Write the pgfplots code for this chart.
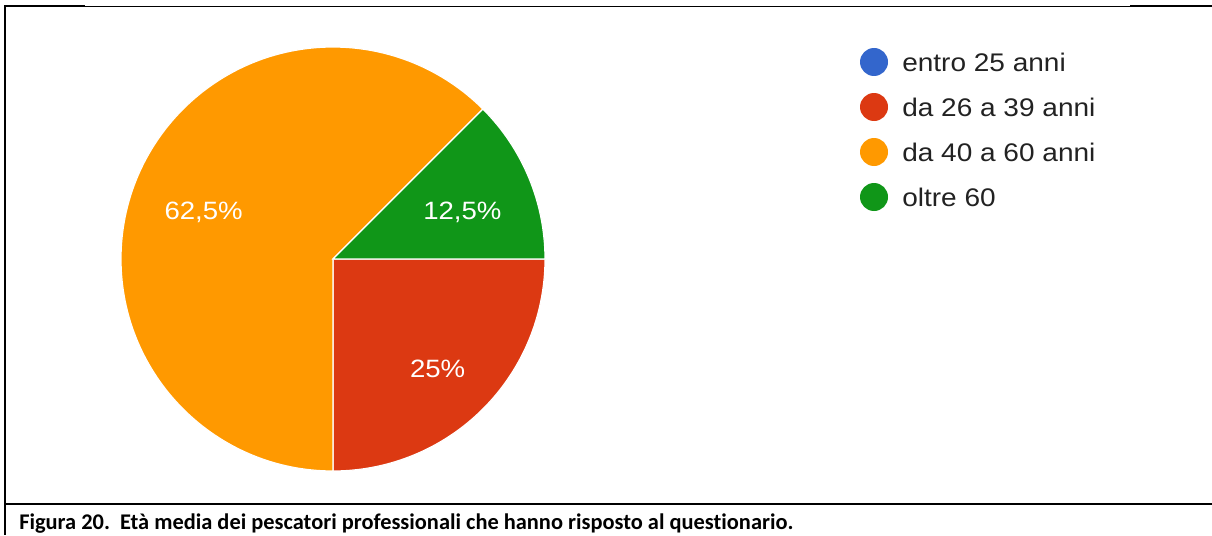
\documentclass[border=0pt]{standalone}
\usepackage{pgfplots}
\pgfplotsset{compat=1.18}
\usepackage{pgfplotstable}
\usepackage{fontspec}
\setmainfont{Liberation Sans}
\newfontfamily\gfont[FakeStretch=1.1]{Liberation Sans}
\newfontfamily\capfont[RawFeature=-liga]{Carlito}
\definecolor{cBlue}{HTML}{3366CC}
\definecolor{cRed}{HTML}{DC3912}
\definecolor{cOrange}{HTML}{FF9900}
\definecolor{cGreen}{HTML}{109618}
\definecolor{cText}{HTML}{222222}
\pgfkeys{/pgf/number format/assume math mode=true}

\pgfplotstableread[col sep=comma]{
group,value
entro 25 anni,0
da 26 a 39 anni,25
da 40 a 60 anni,62.5
oltre 60,12.5
}\agedata

\begin{document}
\begin{tikzpicture}
\pgfplotstablegetelem{0}{value}\of\agedata\edef\vA{\pgfplotsretval}
\pgfplotstablegetelem{1}{value}\of\agedata\edef\vB{\pgfplotsretval}
\pgfplotstablegetelem{2}{value}\of\agedata\edef\vC{\pgfplotsretval}
\pgfplotstablegetelem{3}{value}\of\agedata\edef\vD{\pgfplotsretval}
\pgfplotstablegetelem{0}{group}\of\agedata\edef\gA{\pgfplotsretval}
\pgfplotstablegetelem{1}{group}\of\agedata\edef\gB{\pgfplotsretval}
\pgfplotstablegetelem{2}{group}\of\agedata\edef\gC{\pgfplotsretval}
\pgfplotstablegetelem{3}{group}\of\agedata\edef\gD{\pgfplotsretval}
\pgfmathsetmacro\sA{0}
\pgfmathsetmacro\eA{\sA-3.6*\vA}
\pgfmathsetmacro\eB{\eA-3.6*\vB}
\pgfmathsetmacro\eC{\eB-3.6*\vC}
\pgfmathsetmacro\eD{\eC-3.6*\vD}
\pgfmathsetmacro\mB{(\eA+\eB)/2}
\pgfmathsetmacro\mC{(\eB+\eC)/2}
\pgfmathsetmacro\mD{(\eC+\eD)/2}
\pgfmathsetmacro\xB{333+148*cos(\mB)}\pgfmathsetmacro\yB{259-148*sin(\mB)+14}
\pgfmathsetmacro\xC{333+140*cos(\mC)}\pgfmathsetmacro\yC{259-140*sin(\mC)+14}
\pgfmathsetmacro\xD{333+140*cos(\mD)}\pgfmathsetmacro\yD{259-140*sin(\mD)+14}
\useasboundingbox (0,0) rectangle (909pt,401.25pt);
\begin{axis}[
  at={(0,0)}, anchor=south west,
  scale only axis, width=909pt, height=401.25pt,
  xmin=0, xmax=1212, ymin=0, ymax=535, y dir=reverse,
  hide axis, clip=false]
% frame
\draw[line width=0.75pt] (axis cs:4,6.5) -- (axis cs:1212,6.5);
\draw[line width=1.5pt] (axis cs:4,6.5) -- (axis cs:85,6.5);
\draw[line width=1.5pt] (axis cs:1130,6.5) -- (axis cs:1212,6.5);
\draw[line width=1.5pt] (axis cs:5,6) -- (axis cs:5,535);
\draw[line width=1.3pt] (axis cs:4,504) -- (axis cs:1212,504);
% pie slices
\filldraw[fill=cBlue, draw=white, line width=0.9pt] (axis cs:333,259) -- ++(\sA:159pt) arc[start angle=\sA, end angle=\eA, radius=159pt] -- cycle;
\filldraw[fill=cRed, draw=white, line width=0.9pt] (axis cs:333,259) -- ++(\eA:159pt) arc[start angle=\eA, end angle=\eB, radius=159pt] -- cycle;
\filldraw[fill=cOrange, draw=white, line width=0.9pt] (axis cs:333,259) -- ++(\eB:159pt) arc[start angle=\eB, end angle=\eC, radius=159pt] -- cycle;
\filldraw[fill=cGreen, draw=white, line width=0.9pt] (axis cs:333,259) -- ++(\eC:159pt) arc[start angle=\eC, end angle=\eD, radius=159pt] -- cycle;
% slice labels
\node[anchor=base, inner sep=0, text=white, font=\gfont\fontsize{18.8pt}{22pt}\selectfont] at (axis cs:\xB,\yB) {\pgfmathprintnumber[use comma]{\vB}\%};
\node[anchor=base, inner sep=0, text=white, font=\gfont\fontsize{18.8pt}{22pt}\selectfont] at (axis cs:\xC,\yC) {\pgfmathprintnumber[use comma]{\vC}\%};
\node[anchor=base, inner sep=0, text=white, font=\gfont\fontsize{18.8pt}{22pt}\selectfont] at (axis cs:\xD,\yD) {\pgfmathprintnumber[use comma]{\vD}\%};
% legend
\fill[cBlue] (axis cs:874,62) circle (10.5pt);
\fill[cRed] (axis cs:874,107) circle (10.5pt);
\fill[cOrange] (axis cs:874,152) circle (10.5pt);
\fill[cGreen] (axis cs:874,197) circle (10.5pt);
\node[anchor=base west, inner sep=0, text=cText, font=\gfont\fontsize{19.1pt}{22pt}\selectfont] at (axis cs:902,71) {\gA};
\node[anchor=base west, inner sep=0, text=cText, font=\gfont\fontsize{19.1pt}{22pt}\selectfont] at (axis cs:902,116) {\gB};
\node[anchor=base west, inner sep=0, text=cText, font=\gfont\fontsize{19.1pt}{22pt}\selectfont] at (axis cs:902,161) {\gC};
\node[anchor=base west, inner sep=0, text=cText, font=\gfont\fontsize{19.1pt}{22pt}\selectfont] at (axis cs:902,206) {\gD};
% caption
\node[anchor=base west, inner sep=0, font=\capfont\bfseries\fontsize{16.8pt}{20pt}\selectfont] at (axis cs:19,529) {Figura 20.\hspace{0.45em}Età media dei pescatori professionali che hanno risposto al questionario.};
\end{axis}
\end{tikzpicture}
\end{document}
